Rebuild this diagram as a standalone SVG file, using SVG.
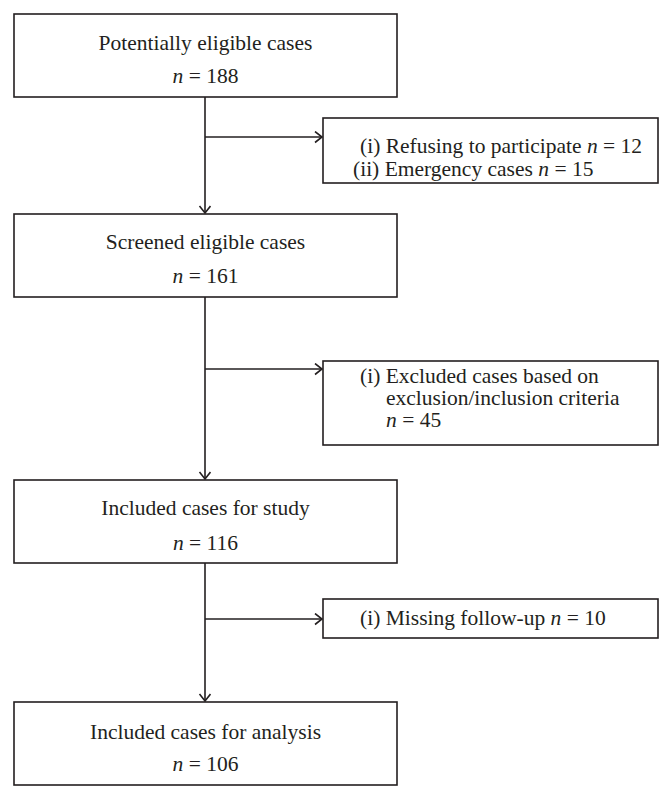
<svg xmlns="http://www.w3.org/2000/svg" width="671" height="799" viewBox="0 0 671 799">
<defs>
<style>
.box{fill:#ffffff;stroke:#231f20;stroke-width:1.6}
.ln{fill:none;stroke:#231f20;stroke-width:1.6}
text{font-family:"Liberation Serif","Times New Roman",serif;font-size:21.5px;fill:#231f20}
.c{text-anchor:middle}
.i{font-style:italic}
</style>
<marker id="ah" markerUnits="userSpaceOnUse" markerWidth="12" markerHeight="14" refX="8" refY="6" orient="auto">
<path d="M1,0.5 L8,6 L1,11.5" fill="none" stroke="#231f20" stroke-width="1.6"/>
</marker>
</defs>
<rect width="671" height="799" fill="#ffffff"/>
<g id="connectors">
<path class="ln" d="M205,97 V213" marker-end="url(#ah)"/>
<path class="ln" d="M205,137 H322" marker-end="url(#ah)"/>
<path class="ln" d="M205,297 V479" marker-end="url(#ah)"/>
<path class="ln" d="M205,369 H322" marker-end="url(#ah)"/>
<path class="ln" d="M205,563 V701" marker-end="url(#ah)"/>
<path class="ln" d="M205,619 H322" marker-end="url(#ah)"/>
</g>
<g id="node1">
<rect class="box" x="14" y="14" width="383" height="83"/>
<text class="c" x="205.5" y="50">Potentially eligible cases</text>
<text class="c" x="205.5" y="83"><tspan class="i">n</tspan> = 188</text>
</g>
<g id="excl1">
<rect class="box" x="323" y="118" width="335" height="65"/>
<text x="360" y="153">(i) Refusing to participate <tspan class="i">n</tspan> = 12</text>
<text x="353" y="176">(ii) Emergency cases <tspan class="i">n</tspan> = 15</text>
</g>
<g id="node2">
<rect class="box" x="14" y="214" width="383" height="83"/>
<text class="c" x="205.5" y="249">Screened eligible cases</text>
<text class="c" x="205.5" y="283"><tspan class="i">n</tspan> = 161</text>
</g>
<g id="excl2">
<rect class="box" x="323" y="361" width="335" height="84"/>
<text x="360" y="383">(i) Excluded cases based on</text>
<text x="386" y="405">exclusion/inclusion criteria</text>
<text x="386" y="427"><tspan class="i">n</tspan> = 45</text>
</g>
<g id="node3">
<rect class="box" x="14" y="480" width="383" height="83"/>
<text class="c" x="205.5" y="515">Included cases for study</text>
<text class="c" x="205.5" y="550"><tspan class="i">n</tspan> = 116</text>
</g>
<g id="excl3">
<rect class="box" x="323" y="599" width="335" height="39"/>
<text x="360" y="625">(i) Missing follow-up <tspan class="i">n</tspan> = 10</text>
</g>
<g id="node4">
<rect class="box" x="14" y="702" width="383" height="83"/>
<text class="c" x="205.5" y="739">Included cases for analysis</text>
<text class="c" x="205.5" y="771"><tspan class="i">n</tspan> = 106</text>
</g>
</svg>
